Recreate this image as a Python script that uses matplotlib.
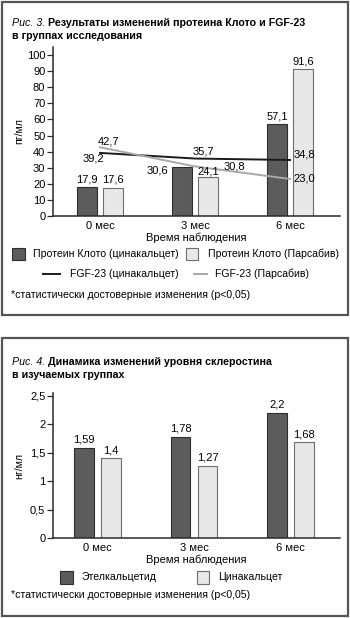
import matplotlib
matplotlib.use('Agg')
import matplotlib.pyplot as plt
from matplotlib.patches import Rectangle
from matplotlib.lines import Line2D
import numpy as np

plt.rcParams['font.family'] = ['Liberation Sans', 'DejaVu Sans']

# ---- данные, рис. 3
months = ['0 мес', '3 мес', '6 мес']
klotho_cina = [17.9, 30.6, 57.1]
klotho_pars = [17.6, 24.1, 91.6]
fgf_cina = [39.2, 35.7, 34.8]
fgf_pars = [42.7, 30.8, 23.0]
yticks1 = [0, 10, 20, 30, 40, 50, 60, 70, 80, 90, 100]

# ---- данные, рис. 4
scl_etel = [1.59, 1.78, 2.2]
scl_cina = [1.4, 1.27, 1.68]
yticks2 = [0, 0.5, 1, 1.5, 2, 2.5]

W, H = 350, 618
fig = plt.figure(figsize=(W / 100, H / 100), dpi=100)


def fx(px):
    return px / W


def fy(py):
    return 1 - py / H


dark = '#5c5c5c'
dark_edge = '#2e2e2e'
light = '#e8e8e8'
light_edge = '#6e6e6e'
axcol = '#2a2a2a'
fs = 8
lfs = 7.6
tfs = 7.7

# рамки
for y0, y1 in [(2, 315), (338, 616)]:
    fig.patches.append(Rectangle((fx(2), fy(y1)), fx(346), (y1 - y0) / H,
                                 transform=fig.transFigure, fill=False,
                                 edgecolor='#555555', linewidth=1.6))


def title(y, num, rest):
    r = fig.canvas.get_renderer()
    t = fig.text(fx(12), fy(y), num, style='italic', fontsize=tfs, va='center')
    w = t.get_window_extent(renderer=r).width
    fig.text(fx(12) + (w + 3) / W, fy(y), rest[0], weight='bold', fontsize=tfs, va='center')
    fig.text(fx(12), fy(y + 13), rest[1], weight='bold', fontsize=tfs, va='center')


def style_axes(ax, yticks, ylim, xlim, ylabel):
    ax.set_ylim(*ylim)
    ax.set_xlim(*xlim)
    ax.set_yticks(yticks)
    ax.set_yticklabels([('%g' % t).replace('.', ',') for t in yticks], fontsize=8)
    ax.set_xticks(range(len(months)))
    ax.set_xticklabels(months, fontsize=fs)
    ax.tick_params(axis='x', length=0, pad=3.5)
    ax.tick_params(axis='y', length=4, width=0.9, color=axcol, pad=1.5)
    for s in ['top', 'right']:
        ax.spines[s].set_visible(False)
    for s in ['left', 'bottom']:
        ax.spines[s].set_linewidth(1.1)
        ax.spines[s].set_color(axcol)
    ax.set_ylabel(ylabel, fontsize=lfs)
    ax.yaxis.set_label_coords(-0.101, 0.5)
    ax.set_xlabel('Время наблюдения', fontsize=fs, labelpad=1)


def label(ax, x, y, v, dx, dy, ha='center'):
    ax.annotate(('%.1f' % v).replace('.', ','), (x, y), xytext=(dx, dy),
                textcoords='offset pixels', ha=ha, va='center', fontsize=fs)


# ================= Рис. 3
title(23, 'Рис. 3.', ['Результаты изменений протеина Клото и FGF-23',
                      'в группах исследования'])
ax1 = fig.add_axes([fx(53), fy(216), fx(340 - 53), (216 - 47) / H])
x = np.arange(len(months))
off1, bw1 = 0.137, 0.22
ax1.bar(x - off1, klotho_cina, bw1, color=dark, edgecolor=dark_edge, linewidth=0.8, zorder=2)
ax1.bar(x + off1, klotho_pars, bw1, color=light, edgecolor=light_edge, linewidth=0.8, zorder=2)
ax1.plot(x, fgf_cina, color='#1a1a1a', linewidth=1.4, zorder=3)
ax1.plot(x, fgf_pars, color='#a8a8a8', linewidth=1.4, zorder=3)
style_axes(ax1, yticks1, (0, 105), (-0.495, 2.526), 'пг/мл')

bar_off_c = [(0, 8), (-25, -4), (0, 8)]
bar_off_p = [(0, 8), (0, 6), (0, 7)]
for i in range(3):
    label(ax1, x[i] - off1, klotho_cina[i], klotho_cina[i], *bar_off_c[i])
    label(ax1, x[i] + off1, klotho_pars[i], klotho_pars[i], *bar_off_p[i])
line_off_c = [(-7, -6), (8, 7), (14, 5)]
line_off_p = [(8, 6), (39, 0), (14, 0)]
for i in range(3):
    label(ax1, x[i], fgf_cina[i], fgf_cina[i], *line_off_c[i])
    label(ax1, x[i], fgf_pars[i], fgf_pars[i], *line_off_p[i])

# легенда рис. 3
fig.patches.append(Rectangle((fx(12), fy(260)), fx(13), 12 / H, transform=fig.transFigure,
                             facecolor=dark, edgecolor=dark_edge, linewidth=0.8))
fig.text(fx(33), fy(254), 'Протеин Клото (цинакальцет)', fontsize=lfs, va='center')
fig.patches.append(Rectangle((fx(186), fy(260)), fx(12), 12 / H, transform=fig.transFigure,
                             facecolor=light, edgecolor=light_edge, linewidth=0.8))
fig.text(fx(208), fy(254), 'Протеин Клото (Парсабив)', fontsize=lfs, va='center')
fig.lines.append(Line2D([fx(43), fx(60)], [fy(274), fy(274)], transform=fig.transFigure,
                        color='#1a1a1a', linewidth=1.4))
fig.text(fx(70), fy(274), 'FGF-23 (цинакальцет)', fontsize=lfs, va='center')
fig.lines.append(Line2D([fx(194), fx(207)], [fy(274), fy(274)], transform=fig.transFigure,
                        color='#a8a8a8', linewidth=1.4))
fig.text(fx(215), fy(274), 'FGF-23 (Парсабив)', fontsize=lfs, va='center')
fig.text(fx(11), fy(295), '*статистически достоверные изменения (р<0,05)', fontsize=lfs, va='center')

# ================= Рис. 4
title(362, 'Рис. 4.', ['Динамика изменений уровня склеростина',
                       'в изучаемых группах'])
ax2 = fig.add_axes([fx(53), fy(538), fx(340 - 53), (538 - 393) / H])
off2, bw2 = 0.14, 0.2
ax2.bar(x - off2, scl_etel, bw2, color=dark, edgecolor=dark_edge, linewidth=0.8, zorder=2)
ax2.bar(x + off2, scl_cina, bw2, color=light, edgecolor=light_edge, linewidth=0.8, zorder=2)
style_axes(ax2, yticks2, (0, 2.55), (-0.461, 2.513), 'нг/мл')
for i in range(3):
    for xx, v in [(x[i] - off2, scl_etel[i]), (x[i] + off2, scl_cina[i])]:
        ax2.annotate(('%g' % v).replace('.', ','), (xx, v), xytext=(0, 8),
                     textcoords='offset pixels', ha='center', va='center', fontsize=fs)

fig.patches.append(Rectangle((fx(60), fy(584)), fx(13), 13 / H, transform=fig.transFigure,
                             facecolor=dark, edgecolor=dark_edge, linewidth=0.8))
fig.text(fx(82), fy(577), 'Этелкальцетид', fontsize=lfs, va='center')
fig.patches.append(Rectangle((fx(197), fy(584)), fx(12), 13 / H, transform=fig.transFigure,
                             facecolor=light, edgecolor=light_edge, linewidth=0.8))
fig.text(fx(218), fy(577), 'Цинакальцет', fontsize=lfs, va='center')
fig.text(fx(11), fy(595), '*статистически достоверные изменения (р<0,05)', fontsize=lfs, va='center')

fig.savefig('out.png', dpi=100)
